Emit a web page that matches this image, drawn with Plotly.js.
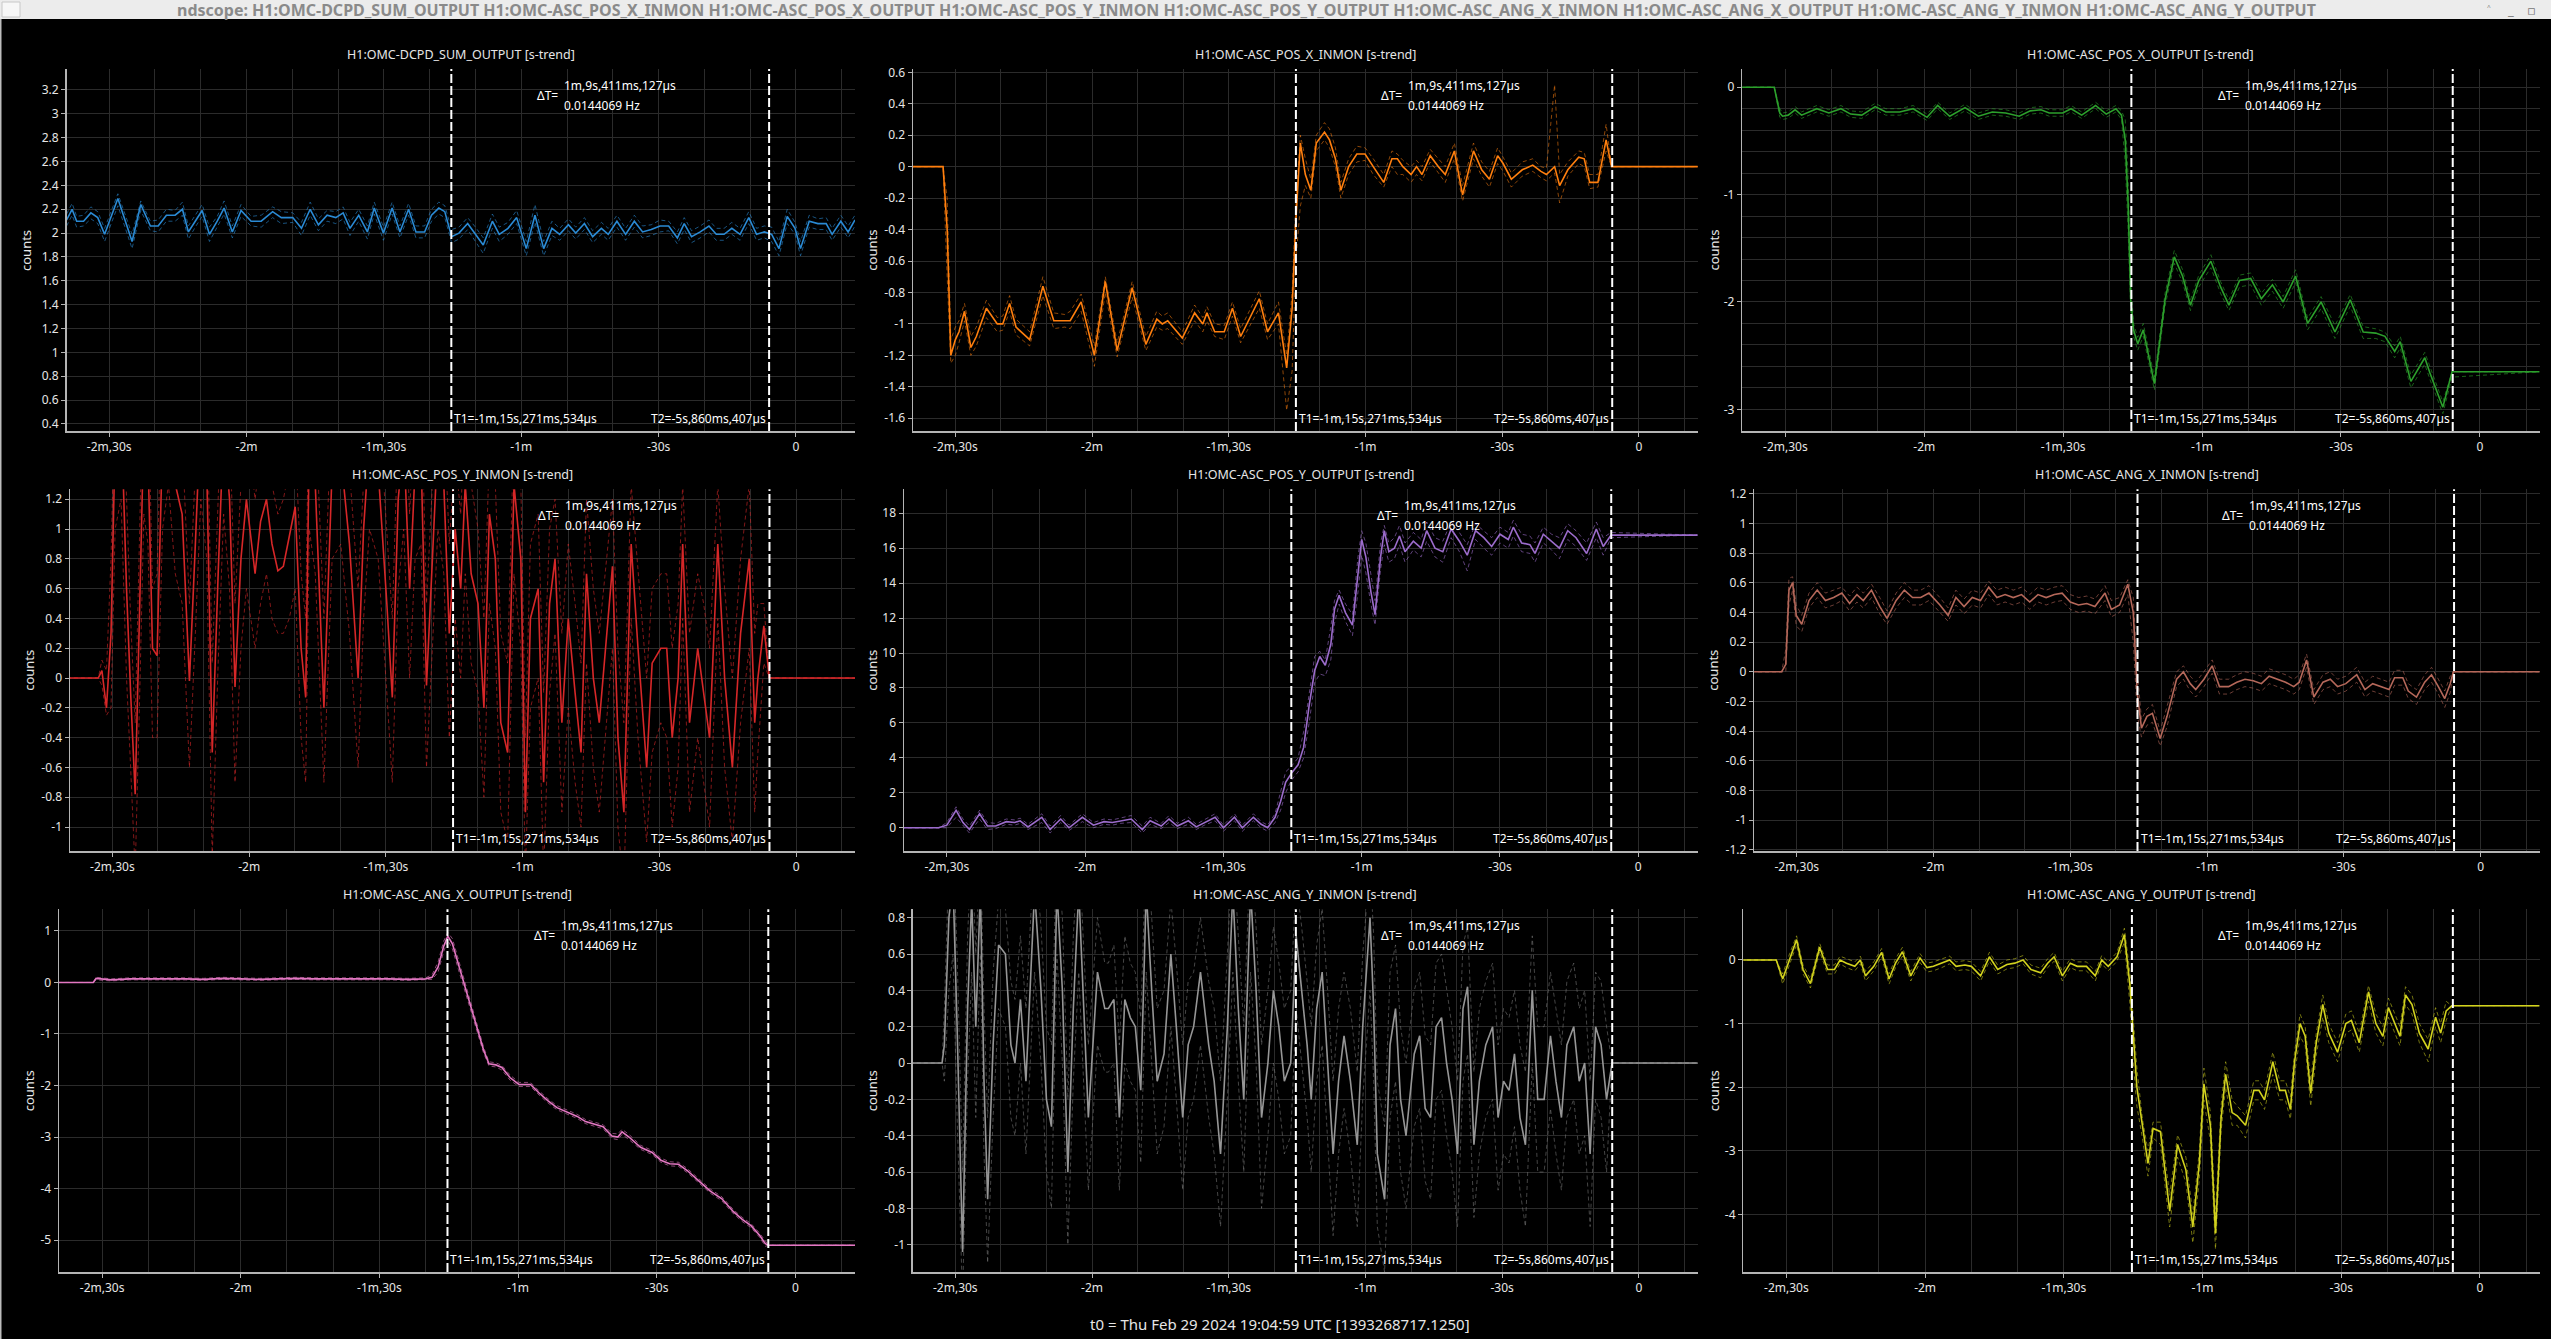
<!DOCTYPE html>
<html><head><meta charset="utf-8">
<script src="https://cdn.plot.ly/plotly-3.0.1.min.js"></script>
<style>html,body{margin:0;padding:0;background:#000;overflow:hidden}</style>
</head><body><div id="plot" style="width:2551px;height:1339px"></div>
<script>
// ---------------- DATA ----------------
const windowTitle = 'ndscope: H1:OMC-DCPD_SUM_OUTPUT H1:OMC-ASC_POS_X_INMON H1:OMC-ASC_POS_X_OUTPUT H1:OMC-ASC_POS_Y_INMON H1:OMC-ASC_POS_Y_OUTPUT H1:OMC-ASC_ANG_X_INMON H1:OMC-ASC_ANG_X_OUTPUT H1:OMC-ASC_ANG_Y_INMON H1:OMC-ASC_ANG_Y_OUTPUT';
const footerText = 't0 = Thu Feb 29 2024 19:04:59 UTC [1393268717.1250]';
const channels = ['H1:OMC-DCPD_SUM_OUTPUT','H1:OMC-ASC_POS_X_INMON','H1:OMC-ASC_POS_X_OUTPUT',
  'H1:OMC-ASC_POS_Y_INMON','H1:OMC-ASC_POS_Y_OUTPUT','H1:OMC-ASC_ANG_X_INMON',
  'H1:OMC-ASC_ANG_X_OUTPUT','H1:OMC-ASC_ANG_Y_INMON','H1:OMC-ASC_ANG_Y_OUTPUT'];
const xTickVals = [-150,-120,-90,-60,-30,0];
const xTickText = ['-2m,30s','-2m','-1m,30s','-1m','-30s','0'];
const cursorT1 = -75.271534, cursorT2 = -5.860407;
const cursorT1Label = 'T1=-1m,15s,271ms,534µs';
const cursorT2Label = 'T2=-5s,860ms,407µs';
const deltaLabels = ['1m,9s,411ms,127µs','0.0144069 Hz'];

const yTicks1 = [0.4,0.6,0.8,1,1.2,1.4,1.6,1.8,2,2.2,2.4,2.6,2.8,3,3.2];
const yTicks2 = [-1.6,-1.4,-1.2,-1,-0.8,-0.6,-0.4,-0.2,0,0.2,0.4,0.6];
const yTicks3 = [-3,-2,-1,0];
const yTicks4 = [-1,-0.8,-0.6,-0.4,-0.2,0,0.2,0.4,0.6,0.8,1,1.2];
const yTicks5 = [0,2,4,6,8,10,12,14,16,18];
const yTicks6 = [-1.2,-1,-0.8,-0.6,-0.4,-0.2,0,0.2,0.4,0.6,0.8,1,1.2];
const yTicks7 = [-5,-4,-3,-2,-1,0,1];
const yTicks8 = [-1,-0.8,-0.6,-0.4,-0.2,0,0.2,0.4,0.6,0.8];
const yTicks9 = [-4,-3,-2,-1,0];

// Panel 1: DCPD_SUM_OUTPUT
const t1 = [-159.3,-158.1,-157.1,-155.6,-154.0,-152.5,-151.0,-148.1,-145.0,-143.1,-141.0,-139.3,-137.5,-135.6,-134.0,-132.7,-131.2,-129.7,-128.1,-126.4,-124.9,-123.1,-121.2,-119.0,-116.8,-114.3,-112.4,-109.9,-108.0,-106.1,-104.3,-102.4,-100.5,-98.9,-97.4,-95.5,-93.6,-92.1,-90.1,-88.2,-86.5,-84.6,-83.0,-81.1,-79.6,-78.0,-76.7,-75.2,-73.6,-71.7,-70.0,-68.3,-66.3,-64.8,-62.9,-61.0,-58.9,-57.0,-55.1,-53.3,-51.6,-49.7,-48.1,-46.2,-44.4,-42.5,-41.0,-39.1,-37.2,-35.3,-33.5,-31.6,-29.7,-27.8,-25.9,-24.4,-22.8,-20.9,-19.0,-17.4,-15.7,-14.0,-12.2,-10.3,-8.6,-6.9,-5.3,-3.7,-1.9,-0.2,1.0,2.9,4.8,6.6,7.9,9.8,11.4,12.9];
const mean1 = [2.11,2.20,2.10,2.10,2.17,2.13,1.99,2.29,1.93,2.24, 2.06,2.06,2.15,2.15,2.20,2.01,2.10,2.19,1.99,2.10, 2.21,2.01,2.19,2.10,2.10,2.18,2.13,2.13,2.04,2.20, 2.07,2.15,2.13,2.17,2.04,2.15,2.01,2.21,2.00,2.21, 2.01,2.20,2.01,2.01,2.15,2.21,2.18,1.97,2.00,2.08, 1.99,1.90,2.10,1.99,2.04,2.13,1.87,2.15,1.87,2.04, 1.99,2.07,2.00,2.08,1.97,2.04,1.99,2.10,1.99,2.10, 2.01,2.03,2.06,2.06,1.96,2.08,1.97,2.01,2.06,1.99, 1.99,2.04,1.99,2.13,1.99,2.01,1.99,1.87,2.14,2.04, 1.87,2.10,2.08,2.08,1.99,2.10,2.01,2.11];
const max1 = [2.16,2.25,2.14,2.15,2.22,2.18,2.04,2.33,1.99,2.27, 2.10,2.11,2.20,2.19,2.26,2.06,2.15,2.24,2.05,2.14, 2.27,2.06,2.24,2.14,2.15,2.22,2.18,2.17,2.09,2.26, 2.12,2.19,2.18,2.22,2.09,2.20,2.06,2.26,2.05,2.26, 2.06,2.25,2.06,2.06,2.20,2.26,2.23,2.03,2.05,2.13, 2.05,1.96,2.16,2.05,2.09,2.19,1.93,2.24,1.93,2.10, 2.04,2.12,2.05,2.13,2.02,2.09,2.04,2.15,2.04,2.15, 2.06,2.07,2.11,2.10,2.01,2.13,2.02,2.06,2.11,2.04, 2.04,2.09,2.04,2.18,2.04,2.06,2.05,1.93,2.20,2.09, 1.93,2.15,2.12,2.13,2.04,2.15,2.06,2.15];
const min1 = [2.06,2.15,2.05,2.06,2.12,2.08,1.93,2.23,1.87,2.19, 2.02,2.01,2.10,2.10,2.15,1.95,2.05,2.14,1.93,2.05, 2.16,1.96,2.14,2.06,2.05,2.13,2.08,2.09,1.98,2.15, 2.02,2.10,2.08,2.12,1.98,2.10,1.95,2.16,1.94,2.16, 1.96,2.15,1.96,1.96,2.10,2.16,2.13,1.92,1.95,2.03, 1.93,1.83,2.04,1.93,1.99,2.08,1.81,2.09,1.81,1.98, 1.94,2.02,1.95,2.03,1.92,1.99,1.94,2.05,1.94,2.05, 1.96,1.98,2.01,2.02,1.91,2.03,1.92,1.96,2.01,1.94, 1.94,1.99,1.94,2.08,1.94,1.96,1.93,1.81,2.08,1.99, 1.81,2.05,2.03,2.03,1.94,2.05,1.96,2.06];

// Panel 2: POS_X_INMON
const t2 = [-160,-152.7,-151.8,-151.0,-150.0,-149.2,-148.0,-146.6,-145.4,-143.2,-140.8,-139.6,-138.1,-136.7,-133.7,-130.8,-128.4,-126.0,-124.8,-122.4,-119.5,-117.1,-114.5,-111.2,-108.2,-105.8,-104.6,-103.4,-100.2,-97.5,-95.7,-94.8,-93.1,-91.0,-89.2,-87.4,-83.3,-81.5,-79.1,-77.3,-76.1,-75.3,-74.3,-73.2,-72.0,-70.8,-69.0,-67.9,-66.6,-65.4,-63.7,-61.9,-60.1,-58.3,-56.0,-54.2,-53.0,-51.8,-50.0,-48.8,-47.6,-45.8,-44.0,-42.5,-40.5,-38.7,-36.3,-34.5,-32.8,-31.0,-29.8,-28.0,-25.6,-23.3,-21.5,-20.3,-18.5,-17.4,-15.6,-13.2,-12.0,-10.8,-9.0,-7.2,-6.0,12.95];
const mean2 = [0,0,-0.4,-1.2,-1.1,-1.05,-0.92,-1.15,-1.08,-0.9, -1.0,-1.0,-0.87,-1.02,-1.1,-0.76,-0.98,-0.98,-0.98,-0.86, -1.2,-0.73,-1.17,-0.77,-1.13,-0.97,-1.0,-0.98,-1.09,-0.93, -1.0,-0.93,-1.05,-1.05,-0.9,-1.08,-0.84,-1.05,-0.93,-1.28, -0.9,-0.35,0.15,-0.05,-0.15,0.15,0.22,0.17,0.05,-0.15, 0.0,0.08,0.08,0.0,-0.1,0.05,0.05,0.0,-0.05,0.0, -0.05,0.07,0.0,-0.05,0.1,-0.18,0.1,-0.02,-0.08,0.07, 0.02,-0.08,-0.02,0.01,-0.03,-0.05,0.0,-0.12,-0.02,0.06, 0.05,-0.1,-0.1,0.17,0.0,0.0];
const max2 = [0,0,-0.2,-1.1,-1.02,-0.98,-0.87,-1.08,-1.02,-0.85, -0.96,-0.95,-0.82,-0.97,-1.05,-0.7,-0.93,-0.94,-0.92,-0.81, -1.14,-0.7,-1.12,-0.73,-1.08,-0.92,-0.95,-0.93,-1.05,-0.88, -0.96,-0.89,-1.0,-1.01,-0.86,-1.03,-0.79,-1.0,-0.86,-1.2, -0.8,-0.25,0.2,0.05,-0.08,0.2,0.28,0.24,0.12,-0.1, 0.05,0.13,0.12,0.05,-0.05,0.1,0.08,0.04,0.0,0.04, 0.0,0.11,0.05,0.0,0.15,-0.12,0.15,0.03,-0.03,0.12, 0.06,-0.04,0.03,0.05,0.0,-0.01,0.52,-0.05,0.03,0.1, 0.09,-0.05,-0.05,0.27,0.0,0.0];
const min2 = [0,0,-0.7,-1.25,-1.2,-1.12,-0.98,-1.2,-1.14,-0.96, -1.05,-1.04,-0.92,-1.07,-1.14,-0.82,-1.03,-1.02,-1.03,-0.92, -1.27,-0.8,-1.21,-0.83,-1.17,-1.02,-1.04,-1.03,-1.13,-0.98, -1.05,-0.98,-1.08,-1.1,-0.95,-1.12,-0.9,-1.1,-1.0,-1.55, -1.3,-0.6,-0.25,-0.12,-0.2,0.1,0.17,0.12,0.0,-0.2, -0.05,0.03,0.04,-0.05,-0.13,0.0,-0.05,-0.05,-0.1,-0.05, -0.09,0.03,-0.04,-0.1,0.05,-0.22,0.05,-0.06,-0.13,0.02, -0.03,-0.13,-0.06,-0.03,-0.07,-0.09,-0.04,-0.23,-0.06,0.02, 0.0,-0.14,-0.13,0.1,0.0,0.0];

// Panel 3: POS_X_OUTPUT
const t3 = [-160,-152.4,-151.2,-150.6,-149.4,-147.9,-146.5,-144.7,-143.2,-140.6,-138.0,-135.9,-133.5,-130.6,-128.3,-125.3,-122.4,-119.4,-117.1,-114.5,-111.2,-108.3,-105.3,-102.4,-99.5,-97.1,-94.8,-93.0,-90.1,-88.3,-86.0,-83.0,-80.7,-78.6,-77.4,-76.6,-76.0,-75.4,-74.8,-73.9,-72.7,-70.3,-68.0,-66.0,-64.2,-62.5,-60.7,-58.1,-56.0,-54.2,-51.9,-49.5,-47.2,-44.8,-42.5,-39.8,-37.2,-34.3,-31.3,-28.0,-25.2,-22.5,-20.5,-18.4,-17.2,-14.9,-11.9,-10.8,-8.0,-6.0,12.9];
const mean3 = [0,0,-0.24,-0.27,-0.26,-0.21,-0.26,-0.23,-0.20,-0.24, -0.20,-0.25,-0.26,-0.18,-0.23,-0.23,-0.20,-0.28,-0.17,-0.27, -0.19,-0.27,-0.23,-0.24,-0.27,-0.22,-0.21,-0.24,-0.24,-0.20, -0.26,-0.17,-0.25,-0.20,-0.26,-0.49,-1.05,-1.98,-2.26,-2.39, -2.26,-2.76,-1.98,-1.58,-1.76,-2.03,-1.80,-1.62,-1.86,-2.03, -1.80,-1.78,-1.97,-1.84,-2.00,-1.76,-2.20,-2.00,-2.28,-1.98, -2.28,-2.29,-2.32,-2.46,-2.37,-2.74,-2.52,-2.66,-2.98,-2.65, -2.65];
const max3 = [0,0,-0.2,-0.24,-0.23,-0.18,-0.23,-0.2,-0.17,-0.21, -0.17,-0.22,-0.23,-0.15,-0.2,-0.2,-0.17,-0.25,-0.14,-0.24, -0.16,-0.24,-0.2,-0.21,-0.24,-0.19,-0.18,-0.21,-0.21,-0.17, -0.23,-0.14,-0.22,-0.17,-0.22,-0.3,-0.8,-1.8,-2.2,-2.33, -2.2,-2.7,-1.92,-1.52,-1.7,-1.98,-1.75,-1.56,-1.81,-1.98, -1.75,-1.73,-1.92,-1.79,-1.95,-1.7,-2.15,-1.95,-2.22,-1.93, -2.23,-2.25,-2.28,-2.41,-2.32,-2.68,-2.47,-2.6,-2.93,-2.65, -2.65];
const min3 = [0,0,-0.28,-0.3,-0.29,-0.24,-0.29,-0.26,-0.23,-0.27, -0.23,-0.28,-0.29,-0.21,-0.26,-0.26,-0.23,-0.31,-0.2,-0.3, -0.22,-0.3,-0.26,-0.27,-0.3,-0.25,-0.24,-0.27,-0.27,-0.23, -0.29,-0.2,-0.28,-0.23,-0.3,-0.7,-1.3,-2.1,-2.32,-2.45, -2.32,-2.82,-2.04,-1.64,-1.82,-2.08,-1.86,-1.68,-1.92,-2.08, -1.86,-1.84,-2.03,-1.9,-2.06,-1.82,-2.26,-2.06,-2.34,-2.04, -2.34,-2.34,-2.37,-2.52,-2.43,-2.8,-2.58,-2.72,-3.04,-2.7, -2.65];

// Panel 4: POS_Y_INMON
const t4 = [-160,-153.1,-152.3,-151.3,-150.3,-149.4,-148.1,-146.9,-146.0,-145.0,-144.0,-143.1,-142.2,-141.2,-140.2,-139.0,-137.7,-136.2,-134.7,-133.1,-131.8,-130.6,-129.3,-128.1,-126.8,-125.6,-124.3,-123.1,-121.8,-120.6,-118.7,-117.5,-116.2,-115.0,-113.7,-112.5,-111.2,-109.9,-108.6,-107.6,-106.8,-105.5,-103.6,-101.8,-99.9,-98.0,-96.1,-94.9,-93.6,-91.7,-89.8,-88.6,-87.3,-86.1,-84.8,-83.6,-82.3,-81.1,-79.8,-78.6,-77.3,-76.1,-74.8,-73.6,-72.6,-71.3,-69.8,-68.5,-67.3,-66.0,-64.8,-63.3,-61.9,-60.4,-59.4,-58.3,-56.6,-55.4,-54.1,-52.9,-51.4,-50.0,-48.5,-47.2,-46.0,-44.5,-43.2,-41.6,-40.3,-39.1,-37.8,-36.2,-34.7,-32.8,-31.6,-29.7,-28.4,-27.2,-25.9,-24.9,-23.4,-21.6,-20.3,-19.0,-17.2,-15.7,-14.0,-12.2,-10.3,-9.1,-8.4,-7.1,-5.9,12.9];
const mean4 = [0,0,0.05,-0.2,0.3,1.6,1.8,0.6,-0.1,-0.78, 0.5,1.7,1.5,0.2,0.15,1.6,1.9,1.3,1.1,-0.02, 0.9,1.8,1.4,-0.5,0.7,1.7,1.2,-0.06,0.8,1.2, 0.7,1.05,1.2,0.9,0.72,0.75,0.95,1.15,0.2,-0.13, 1.6,1.3,-0.2,1.4,1.5,0.9,0.0,1.0,1.6,1.4, 0.5,-0.13,1.2,1.6,0.6,1.4,1.5,-0.05,0.8,1.6, 1.3,0.3,1.0,0.6,1.3,0.7,0.5,-0.2,1.1,0.8, -0.3,-0.5,1.3,0.8,-0.9,0.4,0.6,-0.7,0.5,0.8, -0.3,0.4,-0.1,-0.5,0.7,0.0,-0.3,0.3,0.75,-0.4, -0.9,0.9,0.2,-0.6,0.1,0.2,0.2,-0.4,0.0,0.9, -0.3,0.2,-0.1,-0.4,0.9,0.0,-0.6,0.3,0.8,-0.3, 0.0,0.35,0,0];
const max4 = [0,0,0.12,0.05,0.8,2.0,2.3,1.2,0.4,-0.3, 1.1,2.2,2.0,0.6,0.7,2.1,2.4,1.8,1.6,0.5, 1.4,2.3,1.9,0.1,1.2,2.2,1.7,0.5,1.3,1.7, 1.2,1.5,1.6,1.3,1.1,1.2,1.4,1.6,0.7,0.4, 2.1,1.8,0.4,1.9,2.0,1.4,0.6,1.5,2.1,1.9, 1.0,0.4,1.7,2.1,1.1,1.9,2.0,0.5,1.3,2.1, 1.8,0.9,1.5,1.1,1.8,1.3,1.0,0.4,1.5,1.3, 0.3,0.1,1.7,1.3,-0.4,0.9,1.1,-0.1,1.0,1.2, 0.3,0.9,0.5,0.1,1.2,0.6,0.3,0.8,1.2,0.2, -0.3,1.3,0.7,0.0,0.6,0.7,0.7,0.2,0.5,1.3, 0.3,0.7,0.5,0.2,1.3,0.6,0.0,0.8,1.3,0.3, 0.5,0.5,0,0];
const min4 = [0,0,-0.05,-0.25,-0.2,1.0,1.2,0.0,-0.6,-1.3, -0.1,1.1,0.9,-0.4,-0.4,1.0,1.3,0.7,0.5,-0.6, 0.3,1.2,0.8,-1.2,0.1,1.1,0.6,-0.7,0.2,0.6, 0.2,0.5,0.7,0.4,0.3,0.3,0.4,0.6,-0.4,-0.7, 1.0,0.7,-0.7,0.8,0.9,0.3,-0.6,0.4,1.0,0.8, -0.1,-0.7,0.6,1.0,0.0,0.8,0.9,-0.6,0.2,1.0, 0.7,-0.4,0.4,0.0,0.7,0.1,-0.1,-0.8,0.5,0.2, -0.9,-1.1,0.7,0.2,-1.3,-0.2,0.0,-1.3,-0.1,0.3, -0.9,-0.2,-0.7,-1.0,0.1,-0.6,-0.9,-0.3,0.2,-1.0, -1.4,0.4,-0.4,-1.1,-0.5,-0.3,-0.4,-1.0,-0.6,0.4, -0.9,-0.4,-0.7,-1.0,0.4,-0.6,-1.1,-0.3,0.2,-0.9, -0.5,0.1,0,0];

// Panel 5: POS_Y_OUTPUT
const t5 = [-160,-151.8,-150.0,-148.0,-146.5,-145.1,-142.9,-141.2,-139.4,-137.1,-135.3,-134.1,-132.4,-129.4,-127.6,-125.3,-123.5,-120.6,-118.2,-115.9,-114.1,-112.4,-110.0,-107.6,-105.9,-103.5,-101.8,-100.0,-97.6,-95.9,-94.1,-91.8,-90.0,-87.6,-85.9,-83.5,-81.8,-80.4,-78.8,-77.6,-76.5,-75.3,-73.8,-72.6,-71.4,-70.2,-69.1,-67.9,-66.7,-65.9,-64.9,-63.5,-62.0,-60.8,-60.0,-59.1,-58.0,-57.1,-55.9,-55.1,-54.1,-52.9,-51.8,-50.6,-48.8,-47.1,-45.9,-44.1,-42.4,-40.6,-38.8,-37.1,-35.3,-33.5,-31.8,-30.0,-28.2,-27.1,-25.3,-23.5,-22.4,-20.6,-18.8,-17.1,-15.3,-13.5,-11.2,-9.1,-7.6,-5.9,12.9];
const mean5 = [0,0,0.15,1.0,0.3,-0.1,0.8,0.1,0.1,0.35, 0.3,0.4,0.05,0.6,-0.1,0.5,0.0,0.6,0.15,0.35, 0.3,0.4,0.5,-0.1,0.4,0.1,0.5,0.1,0.4,0.05, 0.3,0.6,0.0,0.6,0.0,0.6,0.2,0.0,0.6,1.5, 2.6,3.1,3.6,4.6,7.0,9.0,9.8,9.3,10.5,12.5, 13.3,12.3,11.6,14.5,16.5,15.5,13.5,12.2,15.5,17.0, 15.8,16.0,16.7,15.8,16.4,16.0,17.0,16.0,15.8,17.1, 16.4,15.6,17.0,16.6,16.1,16.8,16.5,17.2,16.3,16.2, 15.7,16.8,16.4,16.0,17.0,16.6,15.7,17.1,16.1,16.75, 16.75];
const max5 = [0,0,0.3,1.2,0.5,0.1,1.0,0.3,0.25,0.5, 0.45,0.55,0.2,0.8,0.1,0.7,0.15,0.8,0.3,0.5, 0.45,0.55,0.7,0.1,0.6,0.25,0.7,0.25,0.6,0.2, 0.45,0.8,0.15,0.8,0.15,0.8,0.35,0.15,0.8,2.0, 3.2,3.5,4.0,5.5,7.8,9.8,10.1,9.6,11.5,13.0, 13.6,12.8,12.2,15.5,17.0,16.3,14.5,13.0,16.3,17.3, 16.3,16.6,17.3,16.3,16.9,16.5,17.5,16.6,16.4,17.5, 16.9,16.2,17.4,17.0,16.6,17.2,16.9,17.6,16.8,16.7, 16.3,17.2,16.8,16.6,17.4,17.0,16.3,17.5,16.6,16.9, 16.75];
const min5 = [0,0,0.0,0.6,0.1,-0.3,0.5,-0.1,-0.05,0.2, 0.15,0.25,-0.1,0.3,-0.3,0.3,-0.15,0.35,0.0,0.2, 0.15,0.25,0.3,-0.3,0.2,-0.05,0.3,-0.05,0.2,-0.1, 0.15,0.4,-0.2,0.4,-0.2,0.4,0.0,-0.2,0.3,1.0, 2.0,2.7,3.2,4.0,6.0,8.3,8.8,8.7,9.6,11.7, 12.8,11.8,11.0,13.5,15.6,14.6,12.8,11.6,14.8,16.2, 15.2,15.4,16.2,15.2,15.9,15.5,16.4,15.5,15.2,16.6, 15.8,14.7,16.5,16.0,15.6,16.3,16.0,16.7,15.8,15.7, 15.2,16.3,15.9,15.4,16.5,16.1,15.3,16.6,15.6,16.6, 16.75];

// Panel 6: ANG_X_INMON
const t6 = [-160,-153.3,-152.4,-151.7,-150.9,-150.1,-148.9,-147.3,-145.5,-143.7,-141.9,-140.1,-138.4,-136.8,-135.4,-133.6,-131.8,-130.2,-128.2,-126.4,-124.6,-122.8,-121.0,-118.6,-116.8,-115.1,-113.3,-111.5,-109.7,-107.9,-106.1,-104.3,-102.5,-100.7,-98.9,-97.1,-95.3,-93.5,-91.8,-90.0,-88.2,-86.4,-84.6,-82.4,-81.0,-79.2,-77.4,-76.2,-75.3,-74.4,-73.2,-72.0,-70.3,-68.8,-66.7,-65.2,-63.7,-62.5,-60.7,-58.9,-57.3,-55.3,-53.5,-51.7,-49.9,-48.1,-46.4,-44.6,-42.8,-41.0,-39.8,-38.2,-36.6,-34.6,-33.0,-31.4,-29.6,-27.2,-25.4,-23.7,-21.9,-20.1,-18.9,-17.1,-15.9,-14.1,-12.3,-10.8,-9.3,-7.9,-6.7,-6.0,13.0];
const mean6 = [0,0,0.05,0.55,0.6,0.38,0.32,0.48,0.55,0.48, 0.5,0.53,0.46,0.52,0.48,0.55,0.44,0.36,0.48,0.55, 0.5,0.5,0.53,0.45,0.38,0.5,0.44,0.5,0.48,0.57, 0.5,0.52,0.5,0.52,0.47,0.52,0.5,0.52,0.53,0.47, 0.45,0.46,0.44,0.53,0.42,0.45,0.59,0.4,-0.15,-0.38, -0.3,-0.28,-0.45,-0.3,-0.05,0.0,-0.08,-0.12,-0.05,0.04, -0.1,-0.1,-0.07,-0.05,-0.06,-0.08,-0.03,-0.05,-0.07,-0.1, -0.07,0.08,-0.17,-0.07,-0.05,-0.1,-0.08,-0.02,-0.12,-0.08, -0.1,-0.12,-0.04,-0.04,-0.13,-0.17,-0.07,-0.02,-0.1,-0.18, -0.08,0.0,0.0];
const max6 = [0,0,0.15,0.63,0.64,0.45,0.38,0.53,0.6,0.53, 0.55,0.57,0.51,0.57,0.53,0.59,0.5,0.41,0.53,0.6, 0.55,0.55,0.58,0.5,0.43,0.55,0.49,0.55,0.53,0.61, 0.55,0.57,0.55,0.57,0.52,0.57,0.55,0.57,0.58,0.52, 0.5,0.51,0.49,0.58,0.48,0.5,0.62,0.5,0.0,-0.32, -0.25,-0.22,-0.4,-0.24,0.0,0.04,-0.03,-0.07,0.0,0.08, -0.05,-0.05,-0.02,0.0,-0.01,-0.03,0.02,0.0,-0.02,-0.05, -0.02,0.12,-0.12,-0.02,0.0,-0.05,-0.03,0.03,-0.07,-0.03, -0.05,-0.07,0.01,0.01,-0.08,-0.12,-0.02,0.03,-0.05,-0.13, -0.03,0.0,0.0];
const min6 = [0,0,0.0,0.45,0.55,0.31,0.27,0.43,0.5,0.43, 0.45,0.48,0.41,0.47,0.43,0.5,0.39,0.32,0.43,0.5, 0.45,0.45,0.48,0.4,0.34,0.45,0.39,0.45,0.43,0.52, 0.45,0.47,0.45,0.47,0.42,0.47,0.45,0.47,0.48,0.42, 0.4,0.41,0.39,0.48,0.37,0.4,0.52,0.2,-0.3,-0.44, -0.36,-0.34,-0.5,-0.37,-0.1,-0.05,-0.13,-0.17,-0.1,-0.01, -0.15,-0.15,-0.12,-0.1,-0.11,-0.13,-0.08,-0.1,-0.12,-0.15, -0.12,0.03,-0.22,-0.12,-0.1,-0.15,-0.13,-0.07,-0.17,-0.13, -0.15,-0.17,-0.09,-0.09,-0.18,-0.22,-0.12,-0.07,-0.15,-0.24, -0.14,0.0,0.0];

// Panel 7: ANG_X_OUTPUT
const t7 = [-161,-151.9,-151.3,-148,-144,-140,-136,-132,-128,-124,-120,-116,-112,-108,-104,-100,-96,-92,-88,-84,-80,-78.6,-77.3,-76.1,-75.2,-74.2,-72.9,-71.7,-70.4,-68.8,-67.5,-66.3,-64.8,-63.5,-61.7,-59.8,-57.3,-55.4,-53.5,-51.6,-49.7,-47.2,-45.4,-43.5,-41.6,-39.7,-38.4,-37.5,-36.0,-33.5,-31.0,-29.1,-27.2,-25.3,-23.4,-20.9,-18.4,-15.9,-13.4,-11.5,-9.6,-7.8,-6.5,-5.8,12.9];
const mean7 = [0,0,0.08,0.05,0.07,0.07,0.08,0.07,0.06,0.08, 0.07,0.06,0.07,0.08,0.07,0.07,0.07,0.08,0.07,0.06, 0.07,0.1,0.3,0.7,0.9,0.75,0.35,0.0,-0.4,-0.9, -1.3,-1.58,-1.6,-1.65,-1.85,-1.98,-1.98,-2.15,-2.3,-2.43, -2.5,-2.6,-2.7,-2.75,-2.8,-2.98,-3.0,-2.9,-3.0,-3.2, -3.3,-3.45,-3.52,-3.53,-3.65,-3.85,-4.05,-4.2,-4.45,-4.6, -4.72,-4.9,-5.07,-5.1,-5.1];
const max7 = [0,0,0.1,0.07,0.09,0.09,0.1,0.09,0.08,0.1, 0.09,0.08,0.09,0.1,0.09,0.09,0.09,0.1,0.09,0.08, 0.09,0.15,0.4,0.8,0.97,0.85,0.45,0.1,-0.3,-0.83, -1.24,-1.54,-1.56,-1.61,-1.8,-1.94,-1.94,-2.11,-2.26,-2.39, -2.46,-2.56,-2.66,-2.71,-2.76,-2.93,-2.94,-2.85,-2.95,-3.16, -3.26,-3.41,-3.48,-3.49,-3.61,-3.81,-4.01,-4.16,-4.41,-4.56, -4.68,-4.86,-5.03,-5.1,-5.1];
const min7 = [0,0,0.05,0.03,0.05,0.05,0.06,0.05,0.04,0.06, 0.05,0.04,0.05,0.06,0.05,0.05,0.05,0.06,0.05,0.04, 0.05,0.06,0.2,0.6,0.82,0.65,0.25,-0.1,-0.5,-0.98, -1.36,-1.62,-1.64,-1.7,-1.9,-2.02,-2.02,-2.19,-2.34,-2.47, -2.54,-2.64,-2.74,-2.79,-2.84,-3.03,-3.05,-2.95,-3.05,-3.24, -3.34,-3.49,-3.56,-3.57,-3.69,-3.89,-4.09,-4.24,-4.49,-4.64, -4.76,-4.94,-5.12,-5.1,-5.1];

// Panel 8: ANG_Y_INMON
const t8 = [-160,-152.9,-152.4,-151.4,-150.5,-149.6,-148.4,-147.3,-146.4,-145.5,-144.5,-143.7,-142.9,-141.7,-140.5,-139.0,-137.8,-136.9,-135.7,-134.5,-132.6,-131.2,-130.0,-128.9,-127.7,-126.5,-125.3,-124.1,-122.9,-121.9,-120.8,-118.8,-117.2,-116.4,-115.2,-114.0,-112.8,-111.6,-110.5,-109.3,-108.1,-106.9,-105.7,-104.2,-102.7,-101.5,-100.1,-98.9,-97.7,-96.2,-94.4,-93.2,-91.8,-90.3,-89.1,-87.9,-86.7,-85.2,-84.0,-82.8,-81.4,-80.2,-79.0,-77.8,-76.4,-75.2,-74.0,-72.8,-71.9,-70.7,-69.5,-68.3,-67.1,-65.9,-64.7,-63.3,-61.8,-60.6,-59.0,-58.2,-57.4,-55.8,-54.6,-53.4,-52.3,-51.1,-49.3,-48.1,-46.9,-45.7,-44.5,-43.3,-42.2,-41.0,-39.8,-38.6,-37.6,-36.2,-35.0,-33.6,-32.1,-30.9,-29.7,-28.5,-27.3,-26.1,-24.9,-23.4,-22.2,-20.8,-19.4,-18.2,-17.0,-15.8,-14.3,-13.1,-11.9,-10.7,-9.5,-8.3,-7.1,-5.9,12.95];
const mean8 = [0,0,0.1,0.8,1.0,0.2,-1.04,0.3,0.9,0.2, 0.95,-0.1,-0.75,0.1,0.65,0.6,0.1,0.0,0.35,-0.1, 0.95,0.4,-0.2,-0.35,0.95,0.4,-0.6,0.3,0.95,0.35, -0.3,0.5,0.3,0.3,0.35,-0.3,0.35,0.25,0.2,-0.15, 0.95,0.4,-0.1,0.05,0.6,0.2,-0.3,0.1,0.2,0.5, 0.1,-0.1,-0.5,0.2,0.95,0.3,-0.2,0.95,0.4,-0.3, 0.0,0.4,0.2,-0.1,0.0,0.7,0.4,0.1,-0.2,0.3, 0.5,0.0,-0.5,-0.1,0.15,-0.1,-0.45,0.2,0.8,0.3, -0.5,-0.75,0.1,0.3,-0.2,-0.4,0.05,0.15,-0.25,-0.3, 0.2,0.25,0.0,-0.2,-0.5,0.3,0.42,-0.45,-0.1,0.1, 0.2,-0.3,-0.1,-0.15,0.05,-0.3,-0.45,0.4,-0.2,-0.2, 0.15,-0.1,-0.3,0.1,0.2,-0.1,0.0,-0.5,0.2,0.1, -0.2,0.0,0.0];
const max8 = [0,0,0.3,1.1,1.2,0.6,-0.6,0.7,1.2,0.6, 1.2,0.3,-0.3,0.5,0.9,0.85,0.45,0.35,0.7,0.3, 1.2,0.75,0.2,0.1,1.2,0.8,-0.2,0.7,1.2,0.7, 0.1,0.8,0.55,0.55,0.65,0.1,0.7,0.55,0.5,0.25, 1.2,0.8,0.3,0.4,0.9,0.55,0.1,0.45,0.5,0.8, 0.45,0.3,-0.1,0.6,1.2,0.7,0.2,1.2,0.75,0.1, 0.4,0.75,0.55,0.3,0.4,1.0,0.75,0.45,0.2,0.65, 0.85,0.4,-0.1,0.3,0.5,0.3,-0.05,0.6,1.1,0.7, -0.1,-0.35,0.5,0.65,0.2,0.0,0.4,0.5,0.15,0.1, 0.55,0.6,0.4,0.2,-0.1,0.65,0.75,-0.05,0.3,0.45, 0.55,0.1,0.3,0.25,0.4,0.1,-0.05,0.7,0.2,0.2, 0.5,0.3,0.1,0.45,0.55,0.3,0.4,-0.1,0.5,0.45, 0.2,0.0,0.0];
const min8 = [0,0,-0.1,0.4,0.6,-0.3,-1.3,-0.1,0.5,-0.3, 0.6,-0.5,-1.1,-0.3,0.3,0.2,-0.3,-0.4,0.0,-0.5, 0.5,0.0,-0.6,-0.8,0.6,0.0,-1.0,-0.1,0.5,-0.05, -0.7,0.1,-0.05,-0.05,0.0,-0.7,0.0,-0.1,-0.15,-0.55, 0.5,0.0,-0.5,-0.35,0.2,-0.2,-0.7,-0.3,-0.2,0.1, -0.3,-0.5,-0.9,-0.2,0.5,-0.1,-0.6,0.5,0.0,-0.8, -0.4,0.0,-0.2,-0.5,-0.4,0.3,0.0,-0.3,-0.6,-0.1, 0.1,-0.4,-0.95,-0.5,-0.25,-0.5,-0.9,-0.2,0.4,-0.1, -0.9,-1.15,-0.3,-0.1,-0.6,-0.8,-0.35,-0.25,-0.65,-0.75, -0.2,-0.15,-0.4,-0.6,-0.9,-0.1,0.05,-0.85,-0.5,-0.3, -0.2,-0.7,-0.5,-0.55,-0.35,-0.7,-0.9,0.0,-0.6,-0.6, -0.25,-0.5,-0.7,-0.3,-0.2,-0.5,-0.4,-0.9,-0.2,-0.3, -0.6,0.0,0.0];

// Panel 9: ANG_Y_OUTPUT
const t9 = [-160,-152.2,-150.8,-149.3,-147.8,-146.4,-144.8,-142.8,-141.1,-139.6,-138.4,-137.0,-135.2,-134.0,-132.9,-131.1,-129.4,-127.8,-126.4,-124.9,-123.1,-121.1,-119.6,-118.2,-116.4,-114.7,-113.3,-111.4,-110.0,-108.0,-106.1,-104.3,-102.3,-100.6,-98.8,-97.1,-95.0,-93.5,-92.1,-90.3,-88.6,-87.1,-85.1,-83.2,-81.8,-80.4,-78.5,-76.9,-75.7,-75.0,-74.2,-73.0,-71.8,-70.7,-69.1,-67.1,-65.4,-63.6,-62.1,-60.7,-59.7,-58.3,-57.2,-56.0,-55.0,-53.6,-52.5,-50.7,-48.9,-47.8,-46.6,-44.8,-43.3,-42.1,-41.0,-40.1,-38.9,-37.8,-36.6,-35.4,-34.0,-32.7,-30.8,-29.0,-27.8,-26.1,-24.1,-22.5,-21.0,-19.8,-18.4,-17.3,-16.1,-14.7,-13.1,-11.2,-9.6,-8.5,-7.3,-6.1,12.9];
const mean9 = [0,0,-0.3,0.0,0.32,-0.15,-0.37,0.2,-0.15,-0.15, 0.0,-0.05,-0.1,0.0,-0.25,-0.1,0.12,-0.3,-0.05,0.13, -0.25,0.03,-0.12,-0.1,-0.05,0.0,-0.1,-0.08,-0.1,-0.25, 0.05,-0.15,-0.07,-0.05,0.0,-0.15,-0.2,-0.05,0.05,-0.25, -0.05,-0.1,-0.1,-0.25,0.0,-0.1,0.05,0.4,-0.4,-1.2, -2.0,-2.6,-3.2,-2.65,-2.7,-3.95,-2.9,-3.3,-4.2,-3.2, -1.95,-2.6,-4.3,-2.5,-1.8,-2.4,-2.45,-2.6,-2.05,-2.05, -2.2,-1.6,-2.05,-2.05,-2.35,-1.6,-1.0,-1.2,-2.1,-1.3, -0.7,-1.15,-1.45,-1.0,-0.95,-1.3,-0.5,-1.0,-1.2,-0.75, -1.0,-1.2,-0.55,-0.7,-1.15,-1.4,-0.9,-1.15,-0.8,-0.72, -0.72];
const max9 = [0,0,-0.22,0.1,0.38,-0.08,-0.3,0.26,-0.08,-0.08, 0.06,0.02,-0.03,0.06,-0.18,-0.03,0.18,-0.22,0.02,0.2, -0.18,0.1,-0.05,-0.03,0.02,0.06,-0.03,-0.01,-0.03,-0.18, 0.12,-0.08,0.0,0.02,0.07,-0.08,-0.13,0.02,0.12,-0.18, 0.02,-0.03,-0.03,-0.18,0.07,-0.03,0.12,0.5,-0.2,-0.9, -1.7,-2.5,-3.0,-2.55,-2.55,-3.7,-2.75,-3.1,-4.0,-3.0, -1.7,-2.4,-4.0,-2.3,-1.6,-2.2,-2.3,-2.45,-1.9,-1.9, -2.05,-1.45,-1.9,-1.9,-2.15,-1.45,-0.85,-1.05,-1.9,-1.15, -0.55,-1.0,-1.3,-0.85,-0.8,-1.15,-0.4,-0.85,-1.05,-0.6, -0.85,-1.05,-0.42,-0.55,-1.0,-1.25,-0.75,-1.0,-0.65,-0.72, -0.72];
const min9 = [0,0,-0.38,-0.08,0.24,-0.22,-0.44,0.13,-0.22,-0.22, -0.06,-0.12,-0.17,-0.06,-0.33,-0.17,0.05,-0.38,-0.12,0.06, -0.33,-0.04,-0.19,-0.17,-0.12,-0.06,-0.17,-0.15,-0.17,-0.33, -0.02,-0.22,-0.14,-0.12,-0.06,-0.22,-0.28,-0.12,-0.02,-0.33, -0.12,-0.17,-0.17,-0.33,-0.06,-0.17,-0.02,0.28,-0.7,-1.6, -2.3,-2.8,-3.4,-2.8,-2.9,-4.2,-3.1,-3.5,-4.45,-3.45, -2.2,-2.85,-4.55,-2.7,-2.0,-2.6,-2.6,-2.8,-2.2,-2.2, -2.35,-1.8,-2.2,-2.2,-2.5,-1.8,-1.2,-1.35,-2.3,-1.5, -0.9,-1.3,-1.6,-1.15,-1.1,-1.45,-0.65,-1.15,-1.35,-0.9, -1.15,-1.35,-0.7,-0.85,-1.3,-1.6,-1.05,-1.3,-0.95,-0.72, -0.72];

// ---------------- STYLE / LAYOUT ----------------
const W = 2551, H = 1339;
const FONT = '"Noto Sans", "DejaVu Sans", sans-serif';
const GRID = '#2b2b2b';
const AXIS = '#b4b4b4';
const TXT = '#e6e6e6';
const X_RANGE = [-159.3, 12.9];
// plot boxes in pixels: [left, right, top, bottom, countsLabelX]
const boxes = [
  [66.6,855,69,431,26],   [913,1697.7,69,431,871.7],   [1742.3,2539.6,69,431,1713.6],
  [70,855,489.3,851,28.7],[904,1697.7,489.3,851,871.7],[1754.3,2539.6,489.3,851,1713.6],
  [59.1,855,909.3,1272,28.7],[912.9,1697.7,909.3,1272,871.7],[1743.4,2539.6,909.3,1272,1713.6]
];
const yRanges = [[0.341,3.376],[-1.681,0.621],[-3.202,0.17],[-1.161,1.267],[-1.33,19.37],
                 [-1.207,1.229],[-5.62,1.42],[-1.15,0.846],[-4.907,0.797]];
const colors = ['#2a8ad4','#ff7f0e','#2ca02c','#d62728','#9c6ccc','#b5685a','#e377c2','#969696','#d2d21e'];
const dimColors = ['rgba(42,138,212,0.6)','rgba(255,127,14,0.55)','rgba(44,160,44,0.6)','rgba(214,39,40,0.6)',
  'rgba(156,108,204,0.6)','rgba(181,104,90,0.6)','rgba(227,119,194,0.6)','rgba(125,125,125,0.55)','rgba(210,210,30,0.55)'];

const series = [
  {t:t1,mean:mean1,min:min1,max:max1,ticks:yTicks1},
  {t:t2,mean:mean2,min:min2,max:max2,ticks:yTicks2},
  {t:t3,mean:mean3,min:min3,max:max3,ticks:yTicks3},
  {t:t4,mean:mean4,min:min4,max:max4,ticks:yTicks4},
  {t:t5,mean:mean5,min:min5,max:max5,ticks:yTicks5},
  {t:t6,mean:mean6,min:min6,max:max6,ticks:yTicks6},
  {t:t7,mean:mean7,min:min7,max:max7,ticks:yTicks7},
  {t:t8,mean:mean8,min:min8,max:max8,ticks:yTicks8},
  {t:t9,mean:mean9,min:min9,max:max9,ticks:yTicks9}
];

const traces = [];
const layout = {
  width: W, height: H, autosize: false,
  margin: {l:0, r:0, t:0, b:0, pad:0},
  paper_bgcolor: '#000000', plot_bgcolor: '#000000',
  showlegend: false, hovermode: false, dragmode: false,
  font: {family: FONT, size: 12, color: TXT},
  annotations: [], shapes: []
};

series.forEach((s, i) => {
  const sfx = i === 0 ? '' : String(i + 1);
  const xa = 'x' + sfx, ya = 'y' + sfx;
  const b = boxes[i];
  [s.min, s.max].forEach(arr => traces.push({
    type: 'scatter', mode: 'lines', x: s.t, y: arr, xaxis: xa, yaxis: ya,
    line: {color: dimColors[i], width: 1, dash: '4px,3px'}, hoverinfo: 'skip'
  }));
  traces.push({
    type: 'scatter', mode: 'lines', x: s.t, y: s.mean, xaxis: xa, yaxis: ya,
    line: {color: colors[i], width: 1.6}, hoverinfo: 'skip'
  });

  layout['xaxis' + sfx] = {
    domain: [b[0] / W, b[1] / W], anchor: ya, range: X_RANGE,
    tickmode: 'array', tickvals: xTickVals, ticktext: xTickText,
    showgrid: true, gridcolor: GRID, gridwidth: 1, zeroline: false,
    minor: {dtick: 10, tick0: 0, showgrid: true, gridcolor: GRID, gridwidth: 1},
    showline: true, linecolor: AXIS, linewidth: 1.5,
    ticks: 'outside', ticklen: 4, tickcolor: AXIS, tickwidth: 1,
    tickfont: {family: FONT, size: 12, color: TXT}, fixedrange: true
  };
  const yCfg = {
    domain: [1 - b[3] / H, 1 - b[2] / H], anchor: xa, range: yRanges[i],
    tickmode: 'array', tickvals: s.ticks, ticktext: s.ticks.map(v => String(v)),
    showgrid: true, gridcolor: GRID, gridwidth: 1, zeroline: false,
    showline: true, linecolor: AXIS, linewidth: 1.5,
    ticks: 'outside', ticklen: 4, tickcolor: AXIS, tickwidth: 1,
    tickfont: {family: FONT, size: 12, color: TXT}, fixedrange: true
  };
  if (i === 2) yCfg.minor = {dtick: 0.2, tick0: 0, showgrid: true, gridcolor: GRID, gridwidth: 1};
  layout['yaxis' + sfx] = yCfg;

  layout.annotations.push({
    xref: xa + ' domain', yref: ya + ' domain', x: 0.5, y: 1, yshift: 15,
    xanchor: 'center', yanchor: 'middle', showarrow: false,
    text: channels[i] + ' [s-trend]', font: {family: FONT, size: 12.5, color: TXT}
  });
  layout.annotations.push({
    xref: 'paper', yref: ya + ' domain', x: b[4] / W, y: 0.5,
    xanchor: 'center', yanchor: 'middle', showarrow: false, textangle: -90,
    text: 'counts', font: {family: FONT, size: 13, color: TXT}
  });
  layout.annotations.push({
    xref: xa, yref: ya + ' domain', x: -51.6, y: 1, yshift: -26,
    xanchor: 'right', yanchor: 'middle', showarrow: false,
    text: 'ΔT=', font: {family: FONT, size: 12, color: '#ffffff'}
  });
  deltaLabels.forEach((txt, k) => layout.annotations.push({
    xref: xa, yref: ya + ' domain', x: -51.2, y: 1, yshift: -16 - 20 * k,
    xanchor: 'left', yanchor: 'middle', showarrow: false,
    text: txt, font: {family: FONT, size: 12, color: '#ffffff'}
  }));
  layout.annotations.push({
    xref: xa, yref: ya + ' domain', x: cursorT1, y: 0, yshift: 13, xshift: 1,
    xanchor: 'left', yanchor: 'middle', showarrow: false,
    text: cursorT1Label, font: {family: FONT, size: 12, color: '#ffffff'}
  });
  layout.annotations.push({
    xref: xa, yref: ya + ' domain', x: cursorT2, y: 0, yshift: 13, xshift: -1,
    xanchor: 'right', yanchor: 'middle', showarrow: false,
    text: cursorT2Label, font: {family: FONT, size: 12, color: '#ffffff'}
  });
  [cursorT1, cursorT2].forEach(cx => layout.shapes.push({
    type: 'line', xref: xa, yref: ya + ' domain', x0: cx, x1: cx, y0: 0, y1: 1,
    line: {color: '#ffffff', width: 2, dash: '9px,3px'}, layer: 'above'
  }));
});

// window title bar and frame
layout.shapes.push({type: 'rect', xref: 'paper', yref: 'paper', x0: 0, x1: 1, y0: 1 - 19 / H, y1: 1,
  fillcolor: '#ececec', line: {width: 0}, layer: 'below'});
layout.shapes.push({type: 'rect', xref: 'paper', yref: 'paper', x0: 2 / W, x1: 20 / W, y0: 1 - 17 / H, y1: 1 - 2 / H,
  fillcolor: '#f7f7f7', line: {width: 1, color: '#c8c8c8'}, layer: 'below'});
layout.shapes.push({type: 'rect', xref: 'paper', yref: 'paper', x0: 0, x1: 1.5 / W, y0: 0, y1: 1 - 19 / H,
  fillcolor: '#bdbdbd', line: {width: 0}, layer: 'below'});
layout.annotations.push({xref: 'paper', yref: 'paper', x: 1246 / W, y: 1 - 9.5 / H,
  xanchor: 'center', yanchor: 'middle', showarrow: false, text: windowTitle,
  font: {family: FONT, size: 16, color: '#8a8a8a', weight: 'bold'}});
[['˄', 2489], ['_', 2510], ['▫', 2531]].forEach(([g, px]) => layout.annotations.push({
  xref: 'paper', yref: 'paper', x: px / W, y: 1 - 9.5 / H, xanchor: 'center', yanchor: 'middle',
  showarrow: false, text: g, font: {family: FONT, size: 13, color: '#777777'}}));
layout.annotations.push({xref: 'paper', yref: 'paper', x: 1279.5 / W, y: 1 - 1324 / H,
  xanchor: 'center', yanchor: 'middle', showarrow: false, text: footerText,
  font: {family: FONT, size: 15, color: TXT}});

Plotly.newPlot('plot', traces, layout, {staticPlot: true, displayModeBar: false});
</script>
</body></html>
